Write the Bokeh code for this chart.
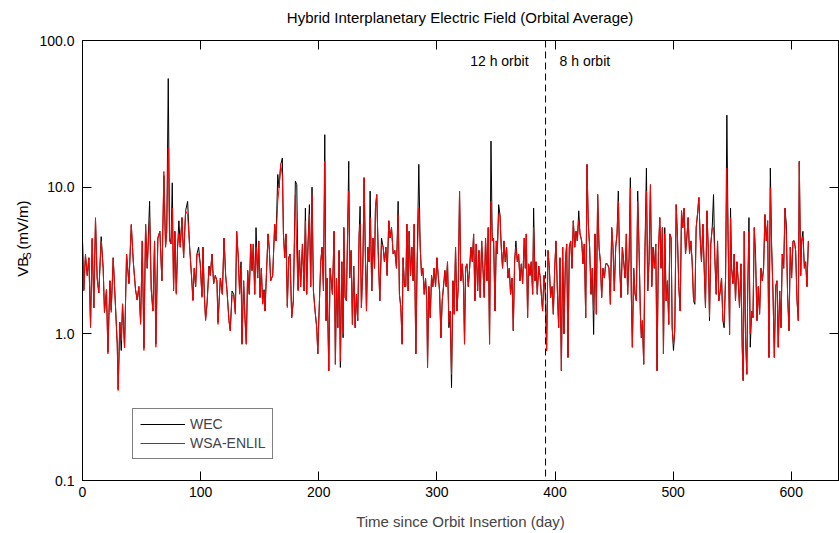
import math
from bokeh.plotting import figure
from bokeh.layouts import row, column
from bokeh.models import (Range1d, FixedTicker, PrintfTickFormatter, LinearAxis, LogAxis,
                          Span, Label, Legend, LegendItem, CustomJSTickFormatter)
from bokeh.embed import file_html
from bokeh.resources import INLINE

FONT = "Liberation Sans"

# ---------------- data (days since orbit insertion, VBs in mV/m) ----------------
days_a = [0.0, 1.1, 2.5, 4.0, 5.4, 6.8, 8.2, 9.6, 11.0, 12.4,
          13.8, 15.8, 17.5, 18.6, 20.3, 21.5, 23.2, 24.3, 26.0, 28.0,
          29.4, 30.2, 31.6, 32.8, 33.9, 35.6, 37.3, 39.3, 41.3, 43.0,
          44.9, 46.3, 47.7, 49.2, 50.6, 52.0, 53.4, 54.8, 56.8, 58.2,
          59.6, 61.0, 62.1, 63.8, 65.5, 67.2, 68.9, 70.3, 71.3, 72.6,
          73.7, 74.9, 76.0, 77.1, 78.2, 79.4, 80.5, 81.6, 82.8, 84.2,
          85.6, 87.3, 89.0, 90.7, 92.4, 93.5, 94.6, 95.8, 96.9, 98.3,
          99.7, 101.1, 102.0, 103.1, 104.2, 105.4, 107.1, 108.2, 109.6, 111.0,
          112.4, 113.8, 114.7, 116.7, 118.4, 119.8, 121.2, 122.3, 124.0, 125.1,
          126.6, 128.0, 129.4, 130.5, 131.9, 133.0, 134.2, 135.0, 136.4, 137.6,
          138.7, 139.8]
wsa_a = [4.3, 1.96, 3.5, 2.5, 3.3, 1.1, 4.5, 1.5, 6.2, 2.4,
         1.9, 4.3, 2.8, 1.4, 2.0, 0.73, 2.3, 1.4, 3.3, 1.5,
         0.85, 0.41, 1.2, 0.9, 1.6, 0.8, 3.5, 2.2, 5.6, 3.1,
         2.0, 1.7, 2.1, 1.16, 4.3, 0.77, 5.6, 2.8, 6.2, 2.0,
         1.43, 4.3, 0.81, 4.5, 5.0, 2.3, 12.8, 3.9, 5.0, 18.5,
         4.3, 4.1, 7.2, 1.96, 5.0, 1.86, 3.9, 4.8, 3.9, 6.2,
         3.3, 6.9, 6.5, 3.9, 2.4, 1.68, 2.8, 2.1, 3.5, 3.5,
         3.0, 1.77, 3.9, 1.86, 1.23, 1.59, 2.8, 2.5, 3.5, 2.2,
         2.5, 2.3, 1.16, 2.4, 1.86, 4.5, 2.5, 1.96, 1.23, 1.05,
         1.8, 1.86, 1.36, 5.0, 3.3, 1.86, 2.8, 0.85, 2.3, 1.23,
         0.85, 2.7]
wec_a = [4.3, 2.0, 3.4, 2.5, 3.3, 1.15, 4.4, 1.5, 6.0, 2.4,
         1.9, 4.6, 2.8, 1.4, 2.0, 0.75, 2.3, 1.45, 3.3, 1.5,
         0.85, 0.42, 1.2, 0.77, 1.6, 0.8, 3.5, 2.2, 5.5, 3.1,
         2.0, 1.7, 2.1, 1.2, 4.3, 0.8, 5.6, 2.8, 8.0, 2.0,
         1.43, 4.3, 0.85, 4.5, 5.0, 2.3, 12.0, 3.9, 5.0, 55.0,
         4.5, 4.1, 10.7, 2.0, 5.0, 1.9, 3.9, 5.9, 3.9, 6.2,
         3.3, 6.9, 8.0, 3.9, 2.4, 1.7, 2.8, 2.1, 3.5, 3.9,
         3.0, 1.8, 3.9, 1.86, 1.25, 1.6, 2.9, 2.5, 3.5, 2.2,
         2.5, 2.3, 1.2, 2.4, 1.86, 4.5, 2.5, 2.0, 1.23, 1.05,
         1.96, 1.86, 1.4, 5.0, 3.3, 1.9, 3.1, 0.85, 2.3, 1.25,
         0.85, 2.7]

days_b = [141.2, 142.4, 143.5, 144.6, 145.8, 146.9, 148.3, 149.2, 150.3, 151.4,
          152.5, 153.7, 154.5, 155.9, 157.1, 158.2, 159.3, 161.0, 162.7, 163.8,
          165.3, 166.4, 167.8, 169.2, 170.1, 171.2, 172.3, 173.4, 174.6, 175.7,
          177.1, 178.5, 180.2, 181.4, 182.5, 183.6, 184.7, 186.2, 187.6, 188.7,
          189.8, 191.0, 192.1, 193.2, 194.3, 195.5, 196.9, 198.3, 199.2, 200.3,
          201.7, 202.8, 204.0, 205.1, 206.2, 207.1, 208.5, 209.6, 211.6, 213.0,
          214.1, 215.0, 216.1, 217.2, 218.3, 219.5, 220.6, 221.2, 222.3, 223.4,
          224.6, 225.4, 226.2, 227.4, 228.5, 229.6, 230.8, 231.9, 233.0, 234.2,
          235.0, 236.1, 237.3, 238.4, 239.5, 240.4, 241.5, 242.6, 243.5, 244.9,
          246.0, 247.2, 248.0, 249.1, 250.3, 251.7, 253.1, 254.5, 255.6, 256.8,
          257.9, 259.3, 260.4, 261.6, 263.0, 264.4, 265.8, 267.2, 268.3, 269.5,
          270.6, 271.4, 272.6, 273.7, 274.6, 275.7, 276.5, 277.7, 278.8, 279.9,
          280.8]
wsa_b = [1.86, 4.1, 2.7, 4.1, 1.86, 3.9, 2.4, 4.3, 1.77, 2.8,
         1.59, 1.96, 1.43, 2.8, 4.8, 3.7, 2.3, 2.5, 5.6, 4.3,
         8.0, 9.9, 14.3, 12.0, 4.8, 3.3, 4.8, 1.51, 3.3, 3.5,
         1.29, 1.68, 8.9, 3.5, 1.96, 3.7, 2.1, 4.1, 1.96, 5.9,
         1.86, 4.3, 6.5, 2.1, 8.9, 1.96, 1.43, 1.1, 0.73, 1.43,
         3.1, 3.9, 1.96, 15.0, 1.23, 2.4, 0.56, 2.8, 1.86, 5.0,
         0.62, 2.4, 1.1, 3.7, 0.65, 3.1, 1.0, 5.3, 1.77, 1.68,
         5.9, 9.4, 2.4, 3.7, 1.16, 2.9, 1.1, 1.86, 1.23, 4.8,
         5.6, 1.51, 2.8, 11.6, 3.3, 1.43, 3.9, 3.1, 6.2, 1.96,
         4.5, 2.8, 7.2, 8.9, 3.7, 1.68, 4.1, 3.9, 3.1, 3.9,
         2.5, 5.9, 4.5, 5.3, 3.5, 3.7, 2.8, 6.5, 1.86, 1.51,
         0.85, 3.3, 2.1, 2.1, 5.6, 1.96, 5.0, 2.5, 3.9, 2.3,
         5.6]
wec_b = [1.86, 4.1, 2.7, 4.1, 1.86, 5.3, 2.4, 4.3, 1.77, 2.8,
         1.6, 2.0, 1.43, 2.8, 4.8, 3.7, 2.3, 2.5, 5.6, 4.3,
         12.2, 9.9, 14.3, 15.8, 4.8, 3.3, 4.8, 1.55, 3.3, 3.5,
         1.29, 1.68, 11.0, 10.4, 2.0, 3.7, 2.1, 4.1, 1.96, 7.2,
         1.86, 4.3, 7.6, 2.1, 10.0, 1.96, 1.43, 1.1, 0.73, 1.43,
         3.1, 3.9, 1.96, 22.8, 1.23, 2.4, 0.56, 2.8, 1.86, 5.0,
         0.62, 2.4, 1.1, 3.7, 0.59, 3.1, 0.94, 5.3, 1.77, 1.68,
         5.9, 15.0, 2.4, 3.7, 1.16, 2.9, 1.1, 1.86, 1.23, 4.8,
         7.4, 1.51, 2.8, 11.6, 3.3, 1.43, 3.9, 3.1, 9.4, 1.96,
         4.5, 2.8, 7.2, 8.9, 3.7, 1.68, 4.5, 3.9, 3.1, 3.9,
         2.5, 5.9, 4.5, 5.3, 3.5, 3.7, 2.8, 8.0, 1.86, 1.51,
         0.85, 3.3, 2.1, 2.1, 5.6, 1.96, 5.0, 2.5, 3.9, 2.3,
         5.6]

days_c = [282.2, 283.3, 284.7, 285.9, 287.0, 288.1, 289.3, 290.4, 291.5, 292.1,
          293.2, 294.4, 295.5, 296.6, 297.7, 298.9, 300.0, 301.1, 302.3, 303.4,
          304.5, 305.6, 306.8, 307.9, 309.0, 310.2, 311.3, 312.4, 313.6, 314.7,
          315.8, 317.0, 318.1, 319.2, 320.3, 321.5, 322.6, 323.4, 324.3, 325.4,
          326.6, 327.7, 328.8, 330.0, 331.1, 332.2, 333.3, 334.5, 335.6, 336.7,
          337.9, 339.0, 340.1, 341.2, 342.4, 343.5, 344.6, 345.8, 346.9, 348.0,
          349.2, 350.3, 351.1, 352.3, 353.4, 354.5, 355.6, 356.8, 357.9, 359.0,
          360.2, 361.3, 362.4, 363.6, 364.7, 365.8, 366.9, 368.1, 369.2, 370.3,
          371.5, 372.6, 374.0, 374.9, 375.7, 376.8, 377.7, 378.8, 379.9, 381.1,
          381.9, 383.1, 383.9, 385.0, 386.2, 387.3, 388.4, 389.5, 390.7, 391.8,
          392.9, 394.1, 395.2, 396.3, 397.5, 398.6, 399.7, 400.8, 402.0, 403.1,
          404.2, 405.4, 406.5, 407.6, 408.8, 409.9, 411.0, 412.1, 413.3, 414.4,
          415.5, 416.7, 417.8, 418.9, 420.1, 421.2]
wsa_c = [0.73, 3.1, 7.2, 3.9, 2.5, 2.8, 1.86, 2.4, 1.68, 0.59,
         2.1, 1.29, 2.5, 2.1, 2.8, 2.1, 3.3, 2.5, 1.96, 0.94,
         1.68, 2.1, 2.7, 2.1, 3.1, 1.2, 1.43, 0.53, 2.3, 1.36,
         3.9, 1.43, 2.1, 9.4, 2.3, 3.0, 2.1, 0.85, 2.8, 3.0,
         2.1, 2.8, 3.9, 3.1, 4.8, 1.68, 4.1, 1.96, 3.7, 1.77,
         4.3, 2.8, 1.77, 4.5, 2.3, 5.3, 0.85, 8.0, 4.3, 4.5,
         1.43, 4.3, 3.5, 6.5, 6.5, 3.9, 2.8, 4.3, 3.1, 3.9,
         2.4, 2.8, 1.86, 2.4, 1.05, 3.1, 3.9, 3.1, 3.5, 2.3,
         3.0, 2.2, 4.5, 2.8, 4.8, 1.29, 3.0, 2.5, 3.1, 1.86,
         5.3, 2.3, 3.1, 1.86, 2.9, 2.5, 1.86, 1.43, 2.5, 1.86,
         0.77, 3.7, 2.8, 1.77, 2.1, 1.36, 2.7, 4.3, 1.96, 1.1,
         3.3, 0.56, 3.9, 1.0, 3.1, 4.1, 0.69, 3.9, 4.3, 2.8,
         5.9, 3.9, 5.0, 4.3, 5.9, 4.8]
wec_c = [0.73, 3.1, 14.3, 3.9, 2.5, 2.8, 1.86, 2.4, 1.68, 0.59,
         2.1, 1.29, 2.5, 2.1, 2.8, 2.1, 3.3, 2.5, 1.96, 0.94,
         1.68, 2.1, 2.7, 2.1, 3.1, 1.1, 1.43, 0.43, 2.3, 1.36,
         3.9, 1.43, 2.1, 9.4, 2.3, 3.0, 2.1, 0.85, 2.8, 3.0,
         2.1, 2.8, 3.9, 3.1, 4.8, 1.68, 4.1, 1.96, 3.7, 1.77,
         4.3, 2.8, 1.77, 4.5, 2.3, 5.3, 0.85, 20.6, 4.3, 4.5,
         1.43, 4.3, 3.5, 7.6, 6.5, 3.9, 2.8, 4.3, 3.1, 3.9,
         2.4, 2.8, 1.86, 2.4, 1.05, 3.1, 4.3, 3.1, 3.5, 2.3,
         3.0, 2.2, 4.5, 2.8, 4.8, 1.29, 3.0, 2.5, 3.1, 1.86,
         7.2, 2.3, 3.1, 1.86, 2.9, 2.5, 1.86, 1.43, 2.5, 1.86,
         0.77, 3.7, 2.8, 1.77, 2.1, 1.36, 2.7, 4.3, 1.96, 1.1,
         3.3, 0.56, 3.9, 1.0, 3.1, 4.1, 0.69, 3.9, 4.3, 2.8,
         5.9, 3.9, 5.0, 4.3, 6.9, 4.8]

days_d = [422.6, 423.7, 424.8, 426.0, 427.1, 428.2, 429.3, 430.5, 431.6, 432.7,
          433.9, 435.0, 436.1, 437.3, 438.4, 439.5, 440.6, 441.8, 442.9, 444.3,
          445.7, 446.9, 448.0, 449.1, 450.2, 451.4, 452.5, 453.6, 454.8, 455.9,
          457.0, 458.2, 459.3, 460.4, 461.5, 462.7, 463.8, 464.6, 465.5, 466.6,
          467.8, 468.9, 470.0, 471.1, 472.3, 473.1, 474.0, 475.1, 476.2, 477.4,
          478.5, 479.6, 480.8, 481.9, 483.0, 484.1, 485.3, 486.4, 487.5, 488.7,
          489.8, 490.9, 491.8, 492.9, 494.1, 495.2, 496.3, 497.2, 498.3, 499.2,
          500.3, 501.4, 502.6, 503.7, 504.8, 506.0, 507.1, 508.2, 509.3, 510.5,
          511.6, 512.7, 513.9, 515.0, 516.1, 517.3, 518.4, 519.5, 520.6, 521.8,
          522.9, 524.0, 525.2, 526.3, 527.4, 528.6, 529.7, 530.8, 531.9, 533.1,
          534.2, 535.3, 536.5, 537.6, 538.7, 539.9, 541.0, 542.1, 543.2, 544.4,
          545.5, 546.6, 547.8, 548.6, 549.5, 550.6, 551.7, 552.8, 554.0, 555.1,
          556.2, 557.4, 558.5, 559.3, 560.2, 561.3, 562.4, 563.1, 564.2, 565.3,
          566.5, 567.6, 568.7, 569.8, 571.0, 572.1, 573.2, 574.4, 575.5, 576.6,
          577.7, 578.9, 580.0, 581.1, 582.3, 583.4, 584.5, 585.7, 586.8, 587.9,
          589.0, 590.2, 591.3, 592.4, 593.6, 594.7, 595.8, 596.9, 598.1, 599.2,
          600.3, 601.5, 602.6, 603.7, 604.9, 606.0, 606.8, 608.0, 608.8, 609.9,
          611.1, 612.2, 613.3, 614.5]
wsa_d = [4.3, 3.0, 4.1, 1.29, 14.3, 5.6, 3.9, 1.86, 2.8, 1.43,
         4.8, 1.36, 8.9, 3.9, 3.1, 1.77, 2.8, 2.4, 3.0, 3.0,
         2.8, 1.59, 5.3, 3.9, 1.96, 3.9, 4.8, 8.0, 2.8, 1.77,
         3.9, 3.1, 2.4, 4.8, 1.86, 3.3, 9.9, 1.86, 0.81, 2.8,
         1.86, 1.68, 8.0, 3.9, 1.36, 0.94, 1.23, 0.62, 3.9, 9.4,
         1.96, 3.1, 10.4, 2.1, 3.9, 2.8, 4.1, 0.56, 3.5, 6.2,
         2.8, 5.3, 0.73, 4.8, 1.68, 2.3, 1.16, 4.8, 4.5, 1.1,
         0.85, 1.05, 7.6, 4.5, 2.1, 1.43, 6.9, 5.3, 7.2, 3.5,
         4.5, 6.2, 3.5, 4.3, 3.1, 1.68, 1.7, 5.3, 6.5, 8.5,
         4.5, 3.1, 5.6, 2.8, 1.51, 6.9, 3.9, 1.3, 4.1, 5.3,
         5.3, 3.3, 1.86, 4.3, 1.68, 1.96, 2.4, 1.23, 1.2, 2.4,
         13.5, 4.1, 0.99, 6.2, 2.8, 2.2, 3.5, 1.68, 3.1, 2.3,
         1.51, 3.0, 0.81, 0.48, 5.0, 0.94, 0.53, 1.86, 5.0, 1.0,
         1.43, 1.29, 5.3, 3.1, 1.23, 2.1, 1.36, 2.8, 2.3, 2.8,
         6.5, 4.3, 5.9, 0.69, 9.9, 3.9, 1.96, 0.69, 2.1, 2.3,
         0.81, 1.96, 1.1, 3.5, 2.8, 7.2, 4.8, 1.86, 1.05, 3.9,
         2.4, 4.3, 4.3, 3.7, 1.68, 1.23, 15.0, 2.5, 4.3, 4.5,
         2.8, 3.1, 2.1, 4.3]
wec_d = [4.3, 3.0, 4.1, 1.29, 14.3, 5.6, 3.9, 1.86, 2.8, 0.99,
         4.8, 1.36, 8.9, 3.9, 3.1, 1.77, 2.8, 2.4, 3.0, 3.0,
         2.8, 1.59, 5.3, 3.9, 1.96, 3.9, 4.8, 9.4, 2.8, 1.77,
         3.9, 3.1, 2.4, 4.8, 1.86, 3.3, 11.6, 1.86, 0.81, 2.8,
         1.86, 1.68, 9.4, 3.9, 1.36, 0.94, 1.23, 0.62, 3.9, 13.5,
         1.96, 3.1, 10.4, 2.1, 3.9, 2.8, 4.1, 0.56, 3.5, 6.2,
         2.8, 5.3, 0.73, 5.3, 1.68, 2.3, 1.16, 4.8, 4.5, 1.1,
         0.77, 1.05, 7.6, 4.5, 2.1, 1.43, 6.9, 5.3, 7.2, 3.5,
         4.5, 6.2, 3.5, 4.3, 3.1, 1.68, 1.59, 5.3, 6.5, 8.5,
         4.5, 3.1, 5.6, 2.8, 1.51, 6.9, 3.9, 1.23, 4.1, 5.3,
         8.9, 3.3, 1.86, 4.3, 1.68, 1.96, 2.4, 1.23, 1.1, 2.4,
         31.0, 4.1, 0.99, 7.2, 2.8, 2.2, 3.5, 1.68, 3.1, 2.3,
         1.51, 3.0, 0.81, 0.48, 5.0, 0.94, 0.53, 1.86, 6.2, 0.81,
         1.43, 1.29, 5.3, 3.5, 1.23, 2.1, 1.36, 2.8, 2.3, 2.8,
         6.5, 4.3, 5.9, 0.69, 13.5, 3.9, 1.96, 0.69, 2.1, 2.3,
         0.81, 1.96, 1.1, 3.5, 2.8, 7.2, 5.6, 1.86, 1.05, 3.9,
         2.4, 4.3, 4.3, 3.7, 1.68, 1.23, 15.0, 2.5, 4.3, 5.0,
         2.8, 3.1, 2.1, 4.3]

x_ticks = [0, 100, 200, 300, 400, 500, 600]
y_ticks = [0.1, 1.0, 10.0, 100.0]
orbit_change_day = 392
series_names = ["WEC", "WSA-ENLIL"]
title_text = "Hybrid Interplanetary Electric Field (Orbital Average)"

days = days_a + days_b + days_c + days_d
wec = wec_a + wec_b + wec_c + wec_d
wsa = wsa_a + wsa_b + wsa_c + wsa_d

W, H = 839, 533
TOP_H = 30      # strip holding the title
LEFT_W = 34     # strip holding the rotated y-axis title
MAIN_H = H - TOP_H
MAIN_W = W - LEFT_W


def blank_fig(width, height):
    f = figure(width=width, height=height, x_range=Range1d(0, width), y_range=Range1d(0, height),
               output_backend="svg", toolbar_location=None,
               x_axis_location=None, y_axis_location=None,
               min_border=0, min_border_left=0, min_border_right=0,
               min_border_top=0, min_border_bottom=0)
    f.grid.visible = False
    f.outline_line_color = None
    f.background_fill_color = "white"
    f.border_fill_color = "white"
    return f


# ---------------- title strip ----------------
top_strip = blank_fig(W, TOP_H)
top_strip.add_layout(Label(x=460, y=TOP_H - 17, text=title_text, text_align="center",
                           text_baseline="middle", text_font=FONT, text_font_size="15px",
                           text_color="black"))

# ---------------- y-axis title strip (canvas y measured from page top) ----------------
left_strip = blank_fig(LEFT_W, MAIN_H)
left_strip.add_layout(Label(x=22, y=H - 300, text="VB", angle=math.pi / 2,
                            text_align="left", text_baseline="middle", text_font=FONT,
                            text_font_size="15px", text_color="black"))
left_strip.add_layout(Label(x=26, y=H - 280, text="S", angle=math.pi / 2,
                            text_align="left", text_baseline="middle", text_font=FONT,
                            text_font_size="10.5px", text_color="black"))
left_strip.add_layout(Label(x=22, y=H - 269, text="(mV/m)", angle=math.pi / 2,
                            text_align="left", text_baseline="middle", text_font=FONT,
                            text_font_size="15px", text_color="black"))

# ---------------- main figure ----------------
p = figure(width=MAIN_W, height=MAIN_H, y_axis_type="log",
           x_range=Range1d(0, 640), y_range=Range1d(0.1, 100),
           output_backend="svg", toolbar_location=None,
           min_border_left=82 - LEFT_W, min_border_right=1,
           min_border_top=40 - TOP_H, min_border_bottom=53)
p.grid.visible = False
p.outline_line_color = "black"
p.outline_line_width = 1
p.background_fill_color = "white"
p.border_fill_color = "white"


def style_axis(ax):
    ax.major_tick_in = 9
    ax.major_tick_out = 0
    ax.minor_tick_line_color = None
    ax.axis_line_color = "black"
    ax.major_tick_line_color = "black"
    ax.major_label_text_font = FONT
    ax.major_label_text_font_size = "14px"
    ax.major_label_text_color = "black"


xa = p.xaxis[0]
xa.ticker = FixedTicker(ticks=x_ticks)
style_axis(xa)
xa.major_label_standoff = 6
xa.axis_label = "Time since Orbit Insertion (day)"
xa.axis_label_text_font = FONT
xa.axis_label_text_font_size = "15px"
xa.axis_label_text_font_style = "normal"
xa.axis_label_standoff = 13

ya = p.yaxis[0]
ya.ticker = FixedTicker(ticks=y_ticks)
ya.formatter = PrintfTickFormatter(format="%.1f")
style_axis(ya)
ya.major_label_standoff = 8

blank = CustomJSTickFormatter(code="return ''")
top = LinearAxis(ticker=FixedTicker(ticks=x_ticks), formatter=blank, major_label_standoff=0)
style_axis(top)
p.add_layout(top, "above")
right = LogAxis(ticker=FixedTicker(ticks=y_ticks), formatter=blank, major_label_standoff=0)
style_axis(right)
p.add_layout(right, "right")

# ---------------- data lines ----------------
r_wec = p.line(days, wec, line_color="black", line_width=1)
r_wsa = p.line(days, wsa, line_color="#ff0000", line_width=1)

# ---------------- annotations ----------------
p.add_layout(Span(location=orbit_change_day, dimension="height", line_color="black",
                  line_width=1, line_dash="7 4"))
p.add_layout(Label(x=orbit_change_day, y=72, x_offset=-17, text="12 h orbit", text_align="right",
                   text_baseline="middle", text_font=FONT, text_font_size="14px", text_color="black"))
p.add_layout(Label(x=orbit_change_day, y=72, x_offset=14, text="8 h orbit", text_align="left",
                   text_baseline="middle", text_font=FONT, text_font_size="14px", text_color="black"))

legend = Legend(items=[LegendItem(label=series_names[0], renderers=[r_wec]),
                       LegendItem(label=series_names[1], renderers=[r_wsa])],
                location=(50, 21), margin=0, padding=7, spacing=3,
                glyph_width=45, glyph_height=16, label_height=16, label_standoff=5,
                label_text_font=FONT, label_text_font_size="14px",
                border_line_color="black", border_line_width=1,
                background_fill_color="white", background_fill_alpha=1.0)
p.add_layout(legend)

layout = column(top_strip, row(left_strip, p, spacing=0), spacing=0)
open("out.html", "w").write(file_html(layout, INLINE))
